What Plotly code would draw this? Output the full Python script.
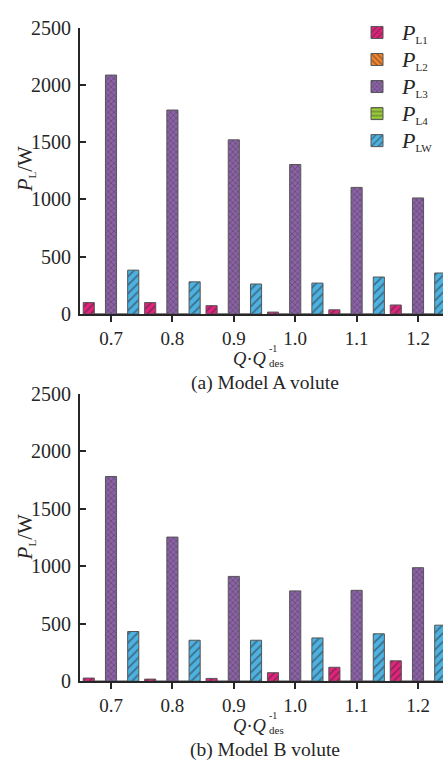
import plotly.graph_objects as go

# Flow-rate ratio Q/Q_des
flow_ratio = [0.7, 0.8, 0.9, 1.0, 1.1, 1.2]
tick_labels = ["0.7", "0.8", "0.9", "1.0", "1.1", "1.2"]
y_ticks = [0, 500, 1000, 1500, 2000, 2500]

# Model A volute, power loss components (W)
a_pl1 = [100, 100, 73, 17, 37, 79]
a_pl2 = [0, 0, 0, 0, 0, 0]
a_pl3 = [2085, 1780, 1520, 1305, 1105, 1013]
a_pl4 = [0, 0, 0, 0, 0, 0]
a_plw = [383, 281, 262, 270, 323, 358]

# Model B volute, power loss components (W)
b_pl1 = [27, 18, 24, 74, 121, 177]
b_pl2 = [0, 0, 0, 0, 0, 0]
b_pl3 = [1780, 1253, 911, 785, 790, 987]
b_pl4 = [0, 0, 0, 0, 0, 0]
b_plw = [432, 356, 356, 376, 412, 487]

SERIF = "Liberation Serif"
INK = "#262626"

def legend_label(sub):
    return (f"<span style='font-size:22px'><i>P</i></span>"
            f"<sub><span style='font-size:11px'>{sub}</span></sub>")

series = [
    ("L1", "#e0237c", "/", 5),
    ("L2", "#f2852d", "\\", 5),
    ("L3", "#8b62a6", "x", 4),
    ("L4", "#9acb3a", "-", 5),
    ("LW", "#4db2e2", "/", 6),
]

fig = go.Figure()

panels = [
    ("x", "y", [a_pl1, a_pl2, a_pl3, a_pl4, a_plw], True),
    ("x2", "y2", [b_pl1, b_pl2, b_pl3, b_pl4, b_plw], False),
]

for xa, ya, values, show in panels:
    for (sub, color, shape, size), vals in zip(series, values):
        fig.add_trace(go.Bar(
            x=flow_ratio, y=vals, xaxis=xa, yaxis=ya,
            name=legend_label(sub),
            legendgroup=sub, showlegend=show,
            marker=dict(
                color=color,
                line=dict(color="#555555", width=1),
                pattern=dict(shape=shape, fgcolor="#2a2a2a", bgcolor=color,
                             size=size, solidity=0.3),
            ),
        ))

x_range = [0.6495, 1.2407]
axis_common = dict(
    showline=True, linecolor=INK, linewidth=2,
    showgrid=False, zeroline=False, mirror=False,
)

xaxis_cfg = dict(
    **axis_common, range=x_range, domain=[80 / 443, 1],
    tickmode="array", tickvals=flow_ratio, ticktext=tick_labels,
    ticks="outside", ticklen=6, tickwidth=1.5, tickcolor=INK,
    tickfont=dict(family=SERIF, size=19, color=INK),
)
yaxis_cfg = dict(
    **axis_common, range=[0, 2500],
    tickmode="array", tickvals=y_ticks,
    ticks="inside", ticklen=6, tickwidth=1.5, tickcolor=INK,
    ticklabelstandoff=3,
    tickfont=dict(family=SERIF, size=20, color=INK),
)

H = 766.0
fig.update_layout(
    width=443, height=766,
    margin=dict(l=0, r=0, t=0, b=0),
    paper_bgcolor="white", plot_bgcolor="white",
    barmode="group", bargap=0.095, bargroupgap=0,
    font=dict(family=SERIF, color=INK),
    xaxis=dict(**xaxis_cfg, anchor="y"),
    yaxis=dict(**yaxis_cfg, anchor="x", domain=[1 - 312 / H, 1 - 17 / H]),
    xaxis2=dict(**xaxis_cfg, anchor="y2"),
    yaxis2=dict(**yaxis_cfg, anchor="x2", domain=[1 - 690 / H, 1 - 394 / H]),
    legend=dict(
        x=352 / 443, y=1 - 3 / H, xanchor="left", yanchor="top",
        font=dict(family=SERIF, size=18.5, color=INK),
        bgcolor="rgba(0,0,0,0)", tracegroupgap=0, itemwidth=40,
    ),
    showlegend=True,
)

y_title = "<i>P</i><sub><span style='font-size:11px'>L</span></sub>/W"

# (x px, y px, text, font size, angle, xanchor, yanchor)
notes = []
for dy, caption in [(0, "(a) Model A volute"), (378, "(b) Model B volute")]:
    notes += [
        (268, 347 + dy, "<i>Q</i>·<i>Q</i>", 18.5, 0, "right", "top"),
        (268, 347 + dy, "-1", 10, 0, "left", "middle"),
        (268, 362 + dy, "des", 11, 0, "left", "middle"),
        (265, 371 + dy, caption, 19.5, 0, "center", "top"),
    ]
notes += [
    (25, 163, y_title, 21, -90, "center", "middle"),
    (25, 542, y_title, 21, -90, "center", "middle"),
]
for px, py, text, fs, angle, xa, ya in notes:
    fig.add_annotation(
        x=px / 443, y=1 - py / H, xref="paper", yref="paper",
        text=text, showarrow=False, textangle=angle,
        xanchor=xa, yanchor=ya, borderpad=0,
        font=dict(family=SERIF, size=fs, color=INK),
    )

fig.write_html("out.html")
